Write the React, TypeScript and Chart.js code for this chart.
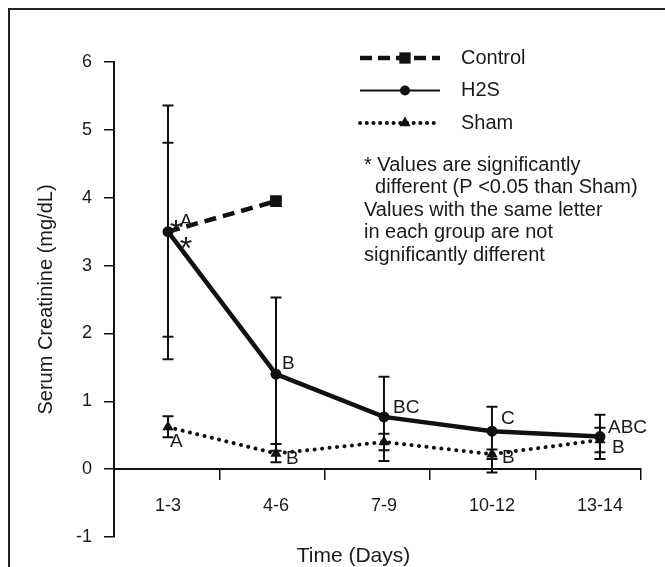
import React, { useEffect, useRef } from "react";
import { Chart, registerables } from "chart.js";

Chart.register(...registerables);

// ---------- data ----------
const categories = ["1-3", "4-6", "7-9", "10-12", "13-14"];

const controlValues: (number | null)[] = [3.5, 3.95, null, null, null];
const h2sValues: (number | null)[] = [3.5, 1.4, 0.77, 0.56, 0.48];
const shamValues: (number | null)[] = [0.62, 0.23, 0.4, 0.22, 0.43];

const controlLow: (number | null)[] = [1.95, null, null, null, null];
const controlHigh: (number | null)[] = [4.81, null, null, null, null];
const h2sLow: (number | null)[] = [1.62, 0.27, 0.12, -0.05, 0.15];
const h2sHigh: (number | null)[] = [5.36, 2.53, 1.36, 0.92, 0.8];
const shamLow: (number | null)[] = [0.47, 0.1, 0.28, 0.15, 0.25];
const shamHigh: (number | null)[] = [0.78, 0.37, 0.52, 0.29, 0.61];

const controlLetters = ["A", "", "", "", ""];
const controlStars = ["*", "", "", "", ""];
const h2sLetters = ["", "B", "BC", "C", "ABC"];
const h2sStars = ["*", "", "", "", ""];
const shamLetters = ["A", "B", "", "B", "B"];

const yMin = -1;
const yMax = 6;

const seriesNames = ["Control", "H2S", "Sham"];
const yTitle = "Serum Creatinine (mg/dL)";
const xTitle = "Time (Days)";
const noteLines = [
  "* Values are significantly",
  "  different (P <0.05 than Sham)",
  "Values with the same letter",
  "in each group are not",
  "significantly different",
];

// ---------- styles ----------
const FONT = "'Liberation Sans', Arial, Helvetica, sans-serif";
const INK = "#111";
const TEXT = "#1a1a1a";

const controlStyle = { dash: [12, 7], width: 4.5, cap: "butt" as CanvasLineCap, point: "rect", radius: 8.3 };
const h2sStyle = { dash: [] as number[], width: 4.5, cap: "butt" as CanvasLineCap, point: "circle", radius: 5.5 };
const shamStyle = { dash: [0.1, 7.4], width: 4, cap: "round" as CanvasLineCap, point: "triangle", radius: 6.5 };
// Control's first point marker is hidden behind the H2S marker in the original
const controlPointRadius = [0, controlStyle.radius, 0, 0, 0];

// label offsets relative to point pixel (style only)
const controlLetterOffset = [[18, -10]];
const controlStarOffset = [[8, 2]];
const h2sStarOffset = [[18, 19]];
const h2sLetterOffset = [[0, 0], [6, -10], [9, -9], [9, -12], [8, -9]];
const shamLetterOffset = [[2, 15], [10, 5], [0, 0], [10, 4], [12, 8]];

function drawMarker(ctx: CanvasRenderingContext2D, style: string, x: number, y: number, r: number) {
  ctx.save();
  ctx.fillStyle = INK;
  ctx.setLineDash([]);
  ctx.beginPath();
  if (style === "rect") {
    const s = r * Math.SQRT1_2;
    ctx.rect(x - s, y - s, 2 * s, 2 * s);
  } else if (style === "circle") {
    ctx.arc(x, y, r, 0, Math.PI * 2);
  } else {
    let rad = 0;
    ctx.moveTo(x + Math.sin(rad) * r, y - Math.cos(rad) * r);
    rad += (2 * Math.PI) / 3;
    ctx.lineTo(x + Math.sin(rad) * r, y - Math.cos(rad) * r);
    rad += (2 * Math.PI) / 3;
    ctx.lineTo(x + Math.sin(rad) * r, y - Math.cos(rad) * r);
    ctx.closePath();
  }
  ctx.fill();
  ctx.restore();
}

const overlayPlugin = {
  id: "overlay",
  beforeDatasetsDraw(chart: any) {
    const ctx: CanvasRenderingContext2D = chart.ctx;
    const xs = chart.scales.xd;
    const ys = chart.scales.y;
    const sets = [
      [controlLow, controlHigh],
      [h2sLow, h2sHigh],
      [shamLow, shamHigh],
    ];
    ctx.save();
    ctx.strokeStyle = INK;
    ctx.lineWidth = 2;
    ctx.setLineDash([]);
    sets.forEach(([lo, hi]) => {
      categories.forEach((_, i) => {
        const l = lo[i];
        const h = hi[i];
        if (l == null || h == null) return;
        const x = xs.getPixelForValue(i);
        const y1 = ys.getPixelForValue(l);
        const y2 = ys.getPixelForValue(h);
        ctx.beginPath();
        ctx.moveTo(x, y1);
        ctx.lineTo(x, y2);
        ctx.moveTo(x - 5.5, y1);
        ctx.lineTo(x + 5.5, y1);
        ctx.moveTo(x - 5.5, y2);
        ctx.lineTo(x + 5.5, y2);
        ctx.stroke();
      });
    });
    ctx.restore();
  },
  afterDatasetsDraw(chart: any) {
    const ctx: CanvasRenderingContext2D = chart.ctx;
    const xs = chart.scales.xd;
    const ys = chart.scales.y;
    const area = chart.chartArea;
    ctx.save();
    ctx.fillStyle = TEXT;
    ctx.textBaseline = "middle";
    ctx.textAlign = "left";

    const put = (vals: (number | null)[], texts: string[], offs: number[][], font: string, align: CanvasTextAlign) => {
      ctx.font = font;
      ctx.textAlign = align;
      texts.forEach((t, i) => {
        const v = vals[i];
        if (!t || v == null || !offs[i]) return;
        const x = xs.getPixelForValue(i) + offs[i][0];
        const y = ys.getPixelForValue(v) + offs[i][1];
        ctx.fillText(t, x, y);
      });
    };
    const letterFont = `19px ${FONT}`;
    const starFont = `32px ${FONT}`;
    put(controlValues, controlLetters, controlLetterOffset, letterFont, "center");
    put(controlValues, controlStars, controlStarOffset, starFont, "center");
    put(h2sValues, h2sStars, h2sStarOffset, starFont, "center");
    put(h2sValues, h2sLetters, h2sLetterOffset, letterFont, "left");
    put(shamValues, shamLetters, shamLetterOffset, letterFont, "left");

    // legend
    const styles = [controlStyle, h2sStyle, shamStyle];
    const lx1 = area.right - 281;
    const lx2 = area.right - 201;
    const ly0 = area.top - 4;
    styles.forEach((st, k) => {
      const y = ly0 + k * 32.5;
      ctx.save();
      ctx.strokeStyle = INK;
      ctx.lineWidth = k === 1 ? 2 : st.width;
      ctx.lineCap = st.cap;
      ctx.setLineDash(k === 0 ? [12, 6] : k === 2 ? [0.1, 6.6] : []);
      ctx.beginPath();
      ctx.moveTo(lx1, y);
      ctx.lineTo(lx2, y);
      ctx.stroke();
      ctx.restore();
      drawMarker(ctx, st.point, (lx1 + lx2) / 2 + 5, y, st.point === "rect" ? 8 : st.point === "circle" ? 5 : 6.5);
      ctx.font = `20px ${FONT}`;
      ctx.textAlign = "left";
      ctx.fillStyle = TEXT;
      ctx.fillText(seriesNames[k], area.right - 180, y);
    });

    // notes
    ctx.font = `20px ${FONT}`;
    ctx.textAlign = "left";
    noteLines.forEach((line, k) => {
      ctx.fillText(line, area.right - 277, area.top + 103 + k * 22.5);
    });

    // x title
    ctx.font = `21px ${FONT}`;
    ctx.textAlign = "center";
    ctx.fillText(xTitle, (area.left + area.right) / 2 - 24, area.bottom + 19);
    ctx.restore();
  },
};

export default function App() {
  const ref = useRef<HTMLCanvasElement | null>(null);

  useEffect(() => {
    if (!ref.current) return;
    Chart.defaults.font.family = FONT;
    const mk = (vals: (number | null)[]) => categories.map((_, i) => ({ x: i, y: vals[i] }));
    const chart = new Chart(ref.current, {
      type: "line",
      data: {
        labels: categories,
        datasets: [
          {
            label: seriesNames[0],
            data: mk(controlValues) as any,
            xAxisID: "xd",
            yAxisID: "y",
            borderColor: INK,
            backgroundColor: INK,
            borderWidth: controlStyle.width,
            borderDash: controlStyle.dash,
            borderCapStyle: controlStyle.cap,
            pointStyle: controlStyle.point as any,
            pointRadius: controlPointRadius,
            pointBackgroundColor: INK,
            pointBorderColor: INK,
            pointBorderWidth: 0,
            tension: 0,
            spanGaps: false,
          },
          {
            label: seriesNames[1],
            data: mk(h2sValues) as any,
            xAxisID: "xd",
            yAxisID: "y",
            borderColor: INK,
            backgroundColor: INK,
            borderWidth: h2sStyle.width,
            borderDash: h2sStyle.dash,
            pointStyle: h2sStyle.point as any,
            pointRadius: h2sStyle.radius,
            pointBackgroundColor: INK,
            pointBorderColor: INK,
            pointBorderWidth: 0,
            tension: 0,
          },
          {
            label: seriesNames[2],
            data: mk(shamValues) as any,
            xAxisID: "xd",
            yAxisID: "y",
            borderColor: INK,
            backgroundColor: INK,
            borderWidth: shamStyle.width,
            borderDash: shamStyle.dash,
            borderCapStyle: shamStyle.cap,
            pointStyle: shamStyle.point as any,
            pointRadius: shamStyle.radius,
            pointBackgroundColor: INK,
            pointBorderColor: INK,
            pointBorderWidth: 0,
            tension: 0,
          },
        ],
      },
      options: {
        animation: false,
        responsive: false,
        devicePixelRatio: 1,
        layout: { padding: { left: 0, top: 52, right: 24, bottom: 30 } },
        plugins: {
          legend: { display: false },
          tooltip: { enabled: false },
        },
        scales: {
          x: {
            type: "category",
            position: { y: 0 } as any,
            offset: true,
            grid: {
              display: true,
              drawOnChartArea: false,
              drawTicks: true,
              tickLength: 10,
              color: INK,
              lineWidth: 1.5,
              offset: true,
            },
            border: { display: true, color: INK, width: 2 },
            ticks: { display: false },
          },
          xd: {
            type: "linear",
            position: { y: 0 } as any,
            min: -0.5,
            max: 4.38,
            afterBuildTicks: (s: any) => {
              s.ticks = categories.map((_, i) => ({ value: i }));
            },
            ticks: {
              autoSkip: false,
              maxRotation: 0,
              padding: 26,
              color: TEXT,
              font: { size: 18 },
              callback: (v: any) => categories[v as number] ?? "",
            },
            grid: { display: false, drawTicks: false },
            border: { display: false },
          },
          y: {
            type: "linear",
            position: "left",
            min: yMin,
            max: yMax,
            ticks: { stepSize: 1, padding: 12, color: TEXT, font: { size: 18 } },
            grid: { drawOnChartArea: false, drawTicks: true, tickLength: 10, color: INK, lineWidth: 1.5 },
            border: { display: true, color: INK, width: 2 },
            title: {
              display: true,
              text: yTitle,
              color: TEXT,
              font: { size: 20 },
              padding: { top: 24, bottom: 0 },
            },
            afterFit: (s: any) => {
              s.width = 104;
            },
          },
        },
      },
      plugins: [overlayPlugin],
    });
    return () => chart.destroy();
  }, []);

  return (
    <div
      style={{
        position: "fixed",
        left: 8,
        top: 8,
        width: 657,
        height: 559,
        boxSizing: "border-box",
        borderLeft: "2px solid #222",
        borderTop: "2px solid #222",
        background: "#fff",
      }}
    >
      <canvas ref={ref} width={655} height={557} style={{ display: "block", width: 655, height: 557 }} />
    </div>
  );
}
